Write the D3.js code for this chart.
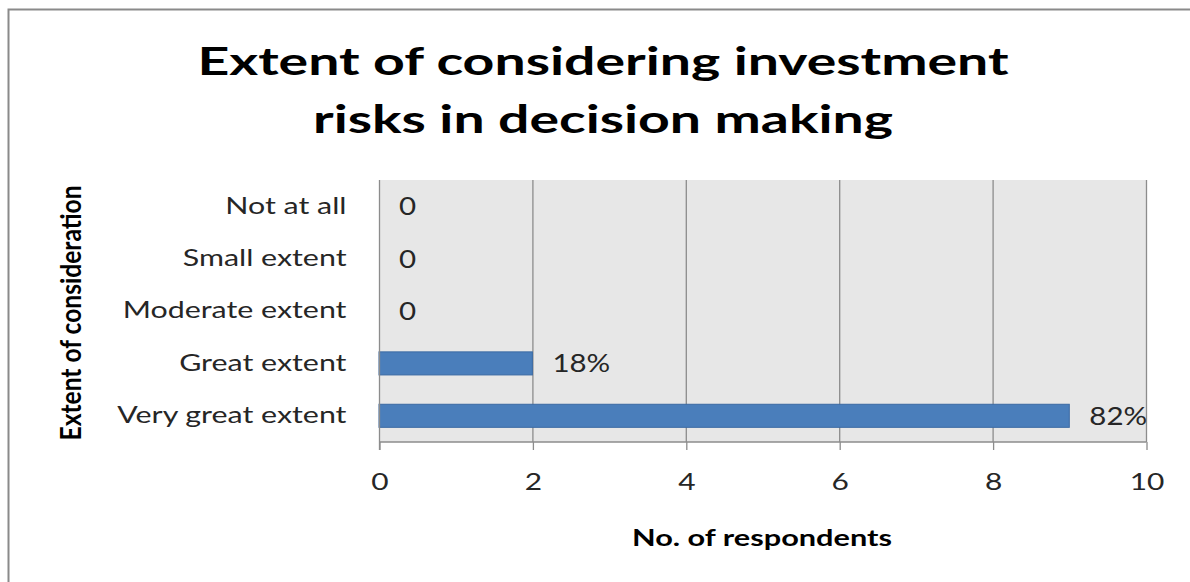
<!DOCTYPE html>
<html>
<head>
<meta charset="utf-8">
<script src="https://cdn.jsdelivr.net/npm/d3@7"></script>
<style>
  html, body { margin: 0; padding: 0; background: #fff; }
  svg { display: block; }
  text { font-family: Lato, "Noto Sans", sans-serif; }
</style>
</head>
<body>
<svg id="chart" width="1190" height="582"></svg>
<script>
// Survey responses: how far investment risks are considered in decisions
const categories = ["Not at all", "Small extent", "Moderate extent", "Great extent", "Very great extent"];
const respondents = [0, 0, 0, 2, 9];
const xTicks = [0, 2, 4, 6, 8, 10];
const titleLines = ["Extent of considering investment", "risks in decision making"];
const xTitle = "No. of respondents";
const yTitle = "Extent of consideration";

const total = d3.sum(respondents);
const labelFor = v => v === 0 ? "0" : Math.round(v / total * 100) + "%";

const svg = d3.select("#chart");
const W = 1190, H = 582;
const plot = { left: 379, right: 1146, top: 180, bottom: 442 };

// Widen glyphs horizontally by factor k, keeping their height
function stretch(sel, k) {
  sel.each(function () {
    const w = this.getComputedTextLength();
    d3.select(this).attr("textLength", w * k).attr("lengthAdjust", "spacingAndGlyphs");
  });
}
// Make a text span exactly the given length
function fitLength(sel, target) {
  sel.attr("textLength", target).attr("lengthAdjust", "spacingAndGlyphs");
}

// Chart frame
svg.append("rect")
  .attr("x", 8.5).attr("y", 9.5)
  .attr("width", W + 20).attr("height", H + 20)
  .attr("fill", "#fff").attr("stroke", "#8a8a8a").attr("stroke-width", 2);

const x = d3.scaleLinear().domain([0, 10]).range([plot.left, plot.right]);
const y = d3.scaleBand().domain(categories)
  .range([plot.top, plot.bottom]).paddingInner(0.56).paddingOuter(0.28);

// Plot background
svg.append("rect")
  .attr("x", plot.left).attr("y", plot.top)
  .attr("width", plot.right - plot.left).attr("height", plot.bottom - plot.top)
  .attr("fill", "#e7e7e7");

// Vertical gridlines
svg.append("g").selectAll("line").data(xTicks.slice(1)).join("line")
  .attr("x1", d => x(d) + 0.5).attr("x2", d => x(d) + 0.5)
  .attr("y1", plot.top).attr("y2", plot.bottom)
  .attr("stroke", "#8c8c8c").attr("stroke-width", 1.3);

// Bars
svg.append("g").selectAll("rect").data(categories).join("rect")
  .attr("x", x(0))
  .attr("y", d => y(d))
  .attr("width", (d, i) => x(respondents[i]) - x(0))
  .attr("height", y.bandwidth())
  .attr("fill", "#4a7ebb")
  .attr("stroke", "#3b6aa3").attr("stroke-width", 1)
  .attr("display", (d, i) => respondents[i] > 0 ? null : "none");

// Data labels
const dataLabels = svg.append("g").selectAll("text").data(categories).join("text")
  .attr("x", (d, i) => x(respondents[i]) + 20)
  .attr("y", d => y(d) + y.bandwidth() / 2)
  .attr("dy", "0.36em")
  .attr("font-size", 25)
  .attr("fill", "#262626")
  .text((d, i) => labelFor(respondents[i]));
stretch(dataLabels, 1.18);

// Bottom axis
const xAxis = svg.append("g")
  .attr("transform", `translate(0.5,${plot.bottom})`)
  .call(d3.axisBottom(x).tickValues(xTicks).tickSize(8).tickPadding(24).tickFormat(d3.format("d")));
xAxis.select(".domain").attr("stroke", "#8c8c8c").attr("stroke-width", 1.3).attr("d", `M${plot.left},0H${plot.right}`);
xAxis.selectAll(".tick line").attr("stroke", "#8c8c8c").attr("stroke-width", 1.3);
xAxis.selectAll(".tick text")
  .attr("font-family", "Lato, sans-serif").attr("font-size", 23).attr("fill", "#262626");
stretch(xAxis.selectAll(".tick text"), 1.3);

// Left axis
const yAxis = svg.append("g")
  .attr("transform", `translate(${plot.left + 0.5},0)`)
  .call(d3.axisLeft(y).tickSize(0).tickPadding(33));
yAxis.select(".domain").attr("stroke", "#8c8c8c").attr("stroke-width", 1.3)
  .attr("d", `M0,${plot.top}V${plot.bottom + 8}`);
yAxis.selectAll(".tick text")
  .attr("font-family", "Lato, sans-serif").attr("font-size", 23).attr("fill", "#262626");
stretch(yAxis.selectAll(".tick text"), 1.32);

// Title
const titleWidths = [811, 580];
titleLines.forEach((line, i) => {
  const t = svg.append("text")
    .attr("x", 603).attr("y", 75 + i * 58)
    .attr("text-anchor", "middle")
    .attr("font-weight", "bold").attr("font-size", 39)
    .attr("fill", "#000")
    .text(line);
  fitLength(t, titleWidths[i]);
});

// Axis titles
const xt = svg.append("text")
  .attr("x", 762).attr("y", 546)
  .attr("text-anchor", "middle")
  .attr("font-weight", "bold").attr("font-size", 22)
  .attr("fill", "#000")
  .text(xTitle);
fitLength(xt, 260);

const yt = svg.append("text")
  .attr("transform", "translate(81,313) scale(1.25,1) rotate(-90)")
  .attr("text-anchor", "middle")
  .attr("font-weight", "bold").attr("font-size", 23)
  .attr("fill", "#000")
  .text(yTitle);
fitLength(yt, 255);
</script>
</body>
</html>
